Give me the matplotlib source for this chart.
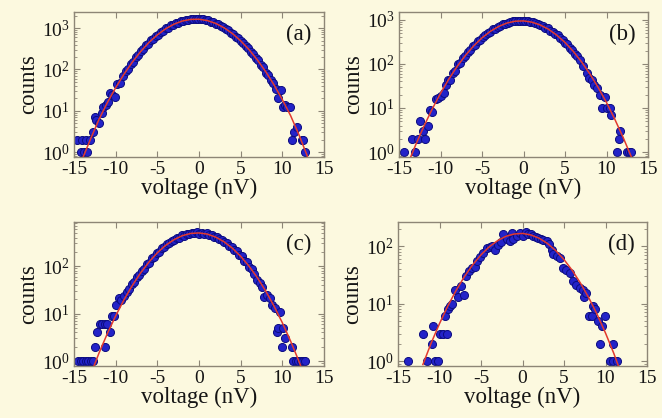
import matplotlib
matplotlib.use("Agg")
import matplotlib.pyplot as plt
from matplotlib.ticker import LogLocator, LogFormatterMathtext, MultipleLocator, NullFormatter

plt.rcParams.update({
    "font.family": "serif",
    "font.serif": ["Liberation Serif", "DejaVu Serif"],
    "mathtext.fontset": "custom",
    "mathtext.rm": "Liberation Serif",
    "mathtext.it": "Liberation Serif:italic",
    "mathtext.bf": "Liberation Serif:bold",
    "axes.unicode_minus": False,
})

# ---------------- histogram data (voltage in nV, counts per bin) ----------------
volt_a = [-14.6, -14.2, -14.1, -13.8, -13.6, -13.4, -13.1, -12.75, -12.5, -12.3, -12.0, -11.7,
          -11.5, -11.2, -10.95, -10.7, -10.4, -10.1, -9.85, -9.5,
          -9.1, -8.8, -8.5, -8.2, -7.9, -7.6, -7.3, -7.0, -6.7, -6.4, -6.1, -5.8, -5.5, -5.2,
          -4.9, -4.6, -4.3, -4.0, -3.7, -3.4, -3.1, -2.8, -2.5, -2.2, -1.9, -1.6, -1.3, -1.0,
          -0.7, -0.4, -0.1, 0.2, 0.5, 0.8, 1.1, 1.4, 1.7, 2.0, 2.3, 2.6, 2.9, 3.2, 3.5, 3.8,
          4.1, 4.4, 4.7, 5.0, 5.3, 5.6, 5.9, 6.2, 6.5, 6.8, 7.1, 7.4, 7.7, 8.0, 8.3, 8.6, 8.9,
          9.2, 9.5, 9.8, 10.1, 10.3, 10.5, 10.9, 11.1, 11.45, 11.7, 12.3, 12.5, 12.75]
counts_a = [2, 1, 2, 1, 2, 1, 2, 3, 7, 6, 5, 9,
            12, 14, 16, 27, 24, 22, 44, 48,
            68, 92, 104, 138, 152, 198, 221, 280, 309, 380, 418, 505, 549, 648,
            698, 810, 860, 985, 1030, 1158, 1195, 1322, 1350, 1468, 1478, 1580, 1570, 1650,
            1618, 1675, 1620, 1655, 1615, 1535, 1528, 1420, 1396, 1275, 1240, 1115, 1068, 945, 892, 778,
            726, 620, 572, 480, 440, 362, 326, 262, 236, 184, 166, 126, 114, 84, 75, 54, 48,
            34, 20, 31, 12, 14, 12, 12, 2, 3, 4, 2, 2, 1]

volt_b = [-14.35, -13.4, -13.05, -12.75, -12.45, -12.15, -11.85, -11.55, -11.3, -11.0, -10.6,
          -10.3, -9.9, -9.6, -9.35, -9.05, -8.85, -8.5, -8.2,
          -7.9, -7.6, -7.3, -7.0, -6.7, -6.4, -6.1, -5.8, -5.5, -5.2, -4.9, -4.6, -4.3, -4.0,
          -3.7, -3.4, -3.1, -2.8, -2.5, -2.2, -1.9, -1.6, -1.3, -1.0, -0.7, -0.4, -0.1, 0.2,
          0.5, 0.8, 1.1, 1.4, 1.7, 2.0, 2.3, 2.6, 2.9, 3.2, 3.5, 3.8, 4.1, 4.4, 4.7, 5.0, 5.3,
          5.6, 5.9, 6.2, 6.5, 6.8,
          7.2, 7.6, 7.9, 8.2, 8.5, 8.9, 9.2, 9.5, 9.8, 10.1, 10.4, 10.6, 11.25, 11.45, 11.65,
          12.45, 12.75, 13.0]
counts_b = [1, 2, 1, 2, 5, 3, 2, 4, 9, 8, 16,
            17, 19, 22, 33, 44, 44, 63, 70,
            98, 106, 138, 150, 190, 206, 254, 275, 330, 355, 416, 444, 512, 540,
            612, 638, 709, 732, 798, 815, 872, 880, 928, 925, 960, 944, 966, 934,
            942, 898, 893, 838, 825, 760, 738, 669, 643, 574, 545, 476, 447, 384, 356, 300, 277,
            228, 209, 168, 152, 120,
            88, 62, 48, 44, 33, 28, 20, 10, 18, 10, 10, 7, 1, 2, 3,
            1, 1, 1]

volt_c = [-14.5, -14.2, -13.9, -13.6, -13.3, -13.0, -12.7, -12.5, -12.2, -11.9, -11.6, -11.3,
          -11.25, -11.0, -10.7, -10.45, -10.2, -9.9, -9.6, -9.35,
          -9.0, -8.7, -8.4, -8.1, -7.8, -7.5, -7.2, -6.9, -6.6, -6.3, -6.0, -5.7, -5.4, -5.1,
          -4.8, -4.5, -4.2, -3.9, -3.6, -3.3, -3.0, -2.7, -2.4, -2.1, -1.8, -1.5, -1.2, -0.9,
          -0.6, -0.3, 0.0, 0.3, 0.6, 0.9, 1.2, 1.5, 1.8, 2.1, 2.4, 2.7, 3.0, 3.3, 3.6, 3.9,
          4.2, 4.5, 4.8, 5.1, 5.4, 5.7, 6.0, 6.3, 6.6,
          6.95, 7.3, 7.6, 7.85, 8.1, 8.5, 8.75, 9.1, 9.3, 9.5, 9.75, 10.0, 10.1, 10.3, 11.1,
          11.3, 11.6, 11.9, 12.2, 12.5, 12.75]
counts_c = [1, 1, 1, 1, 1, 1, 1, 2, 4, 6, 6, 6,
            2, 6, 4, 9, 9, 15, 21, 19,
            24, 28, 33, 42, 46, 60, 66, 80, 88, 110, 118, 146, 156, 190,
            198, 240, 248, 292, 300, 346, 352, 396, 398, 442, 438, 478, 470, 505,
            488, 520, 485, 510, 478, 490, 452, 455, 415, 410, 368, 360, 318, 308, 266, 256,
            216, 206, 170, 160, 130, 120, 96, 88, 68,
            52, 44, 36, 22, 25, 21, 15, 13, 4, 5, 11, 2, 5, 3, 2,
            1, 1, 1, 1, 1, 1]

volt_d = [-13.75, -11.95, -11.55, -10.95, -10.75, -10.55, -10.15, -9.95, -9.55, -9.35, -9.15,
          -8.95, -8.75, -8.55, -8.15, -7.8, -7.4, -7.05, -6.75, -6.45, -6.05, -5.75, -5.5,
          -5.1, -4.7, -4.3, -3.9, -3.7, -3.3, -2.9, -2.6, -2.3, -1.9, -1.5, -1.3, -1.1, -0.7,
          -0.3, 0.1, 0.4, 0.7, 1.0, 1.3, 1.6, 1.9, 2.2, 2.5, 2.9, 3.2, 3.5, 3.7, 4.1, 4.5,
          4.9, 5.3, 5.7, 6.1, 6.5, 6.9, 7.3, 7.35, 7.7, 8.05, 8.35, 8.45, 8.75, 9.15, 9.35,
          9.55, 9.95, 10.55, 10.95, 10.95, 11.35]
counts_d = [1, 3, 1, 2, 4, 1, 1, 3, 3, 6, 3,
            8, 9, 10, 17, 13, 20, 14, 30, 37, 42, 43, 56,
            65, 76, 91, 95, 100, 87, 105, 118, 160, 131, 122, 168, 135, 151,
            170, 151, 175, 160, 165, 150, 142, 136, 130, 126, 120, 110, 85, 74, 67, 63,
            42, 39, 34, 25, 21, 19, 17, 13, 15, 6, 6, 9, 8, 5, 2,
            4, 6, 1, 2, 1, 1]

# ---------------- fitted curves, sampled at integer voltages ----------------
fit_v_a = list(range(-14, 14))
fit_a = [0.68, 2.1, 6.2, 15.7, 36.1, 76.9, 150, 271, 450, 686, 964, 1245, 1483, 1623,
         1637, 1520, 1298, 1021, 740, 492, 302, 170, 88.5, 42.4, 18.6, 7.55, 2.6, 0.8]
fit_v_b = list(range(-14, 14))
fit_b = [0.50, 1.44, 3.84, 9.46, 21.5, 45.2, 87.5, 156, 258, 392, 550, 711, 850, 936,
         951, 891, 771, 616, 453, 308, 193, 111, 59.4, 29.2, 13.3, 5.56, 2.15, 0.77]
fit_v_c = list(range(-13, 14))
fit_c = [0.52, 1.47, 3.78, 8.95, 19.5, 39.1, 72.2, 122, 191, 274, 361, 438, 488, 500,
         472, 409, 326, 239, 161, 100, 57.1, 29.9, 14.4, 6.40, 2.61, 0.98, 0.34]
fit_v_d = list(range(-12, 13))
fit_d = [0.87, 2.06, 4.48, 9.05, 16.9, 29.4, 47.2, 70.4, 97.2, 124, 148, 162, 166,
         156, 137, 111, 83.5, 58.2, 37.6, 22.5, 12.5, 6.43, 3.07, 1.36, 0.55]

panel_tags = ["(a)", "(b)", "(c)", "(d)"]
y_limits = [(0.76, 2450), (0.77, 1515), (0.785, 850), (0.82, 262)]
x_ticks = [-15, -10, -5, 0, 5, 10, 15]

BG = "#fcf9df"
SPINE = "#8d8676"
TEXT = "#151515"

fig = plt.figure(figsize=(6.62, 4.18), dpi=100, facecolor=BG)
W, H = 662.0, 418.0
boxes = [(74, 12, 324, 157), (399, 12, 648, 157), (74, 222, 324, 366), (398, 222, 647, 366)]

series = [
    (volt_a, counts_a, fit_v_a, fit_a),
    (volt_b, counts_b, fit_v_b, fit_b),
    (volt_c, counts_c, fit_v_c, fit_c),
    (volt_d, counts_d, fit_v_d, fit_d),
]

for i, ((vx, cy, fx, fy), (l, t, r, b)) in enumerate(zip(series, boxes)):
    ax = fig.add_axes([l / W, 1 - b / H, (r - l) / W, (b - t) / H])
    ax.set_facecolor(BG)
    ax.set_yscale("log")
    ax.plot(vx, cy, "o", ms=5.8, mfc="#2323c8", mec="#0c0c80", mew=0.7, zorder=2)
    ax.plot(fx, fy, "-", color="#e23a2e", lw=1.1, zorder=3)
    ax.set_xlim(-15, 15)
    ax.set_ylim(*y_limits[i])
    ax.set_xticks(x_ticks)
    ax.yaxis.set_major_locator(LogLocator(base=10, numticks=10))
    ax.yaxis.set_major_formatter(LogFormatterMathtext())
    ax.yaxis.set_minor_locator(LogLocator(base=10, subs=range(2, 10), numticks=10))
    ax.yaxis.set_minor_formatter(NullFormatter())
    ax.tick_params(which="both", direction="in", top=True, right=True,
                   color=SPINE, labelcolor=TEXT, labelsize=14)
    ax.tick_params(which="major", length=4.5, width=0.8, pad=3)
    ax.tick_params(which="minor", length=2.2, width=0.6)
    ax.tick_params(axis="x", which="minor", length=0)
    for s in ax.spines.values():
        s.set_color(SPINE)
        s.set_linewidth(1.0)
    ax.set_xlabel("voltage (nV)", fontsize=16.5, color=TEXT, labelpad=0)
    ax.set_ylabel("counts", fontsize=16.5, color=TEXT, labelpad=2)
    ax.text(0.898, 0.845, panel_tags[i], transform=ax.transAxes, fontsize=16.5,
            color=TEXT, ha="center", va="center")

fig.savefig("out.png", dpi=100, facecolor=BG)
